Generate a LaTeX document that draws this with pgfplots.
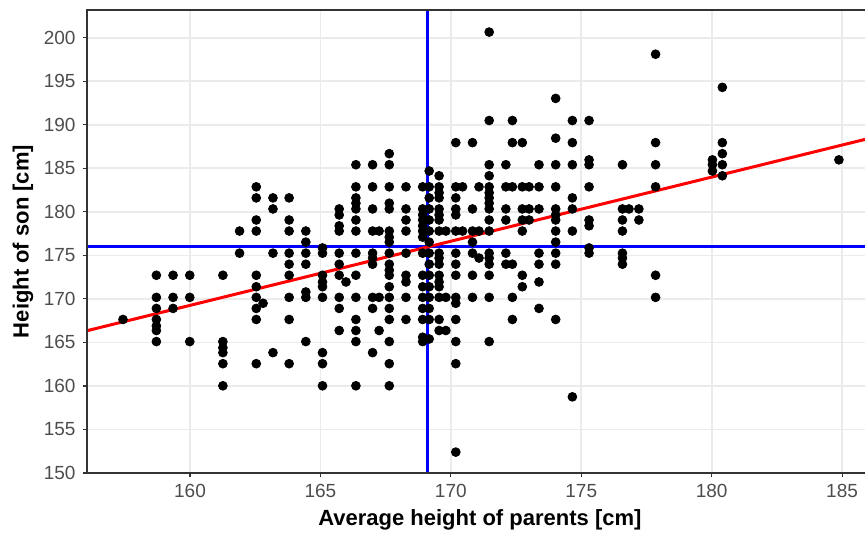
\documentclass[border=0pt]{standalone}
\usepackage{fontspec}
\setmainfont{Liberation Sans}
\usepackage{pgfplots}
\pgfplotsset{compat=1.18}
\definecolor{grey20}{HTML}{333333}
\definecolor{grey30}{HTML}{4D4D4D}
\definecolor{grey92}{HTML}{EBEBEB}

% midparent height vs son height
\pgfplotstableread{
x y
157.43 167.64
158.71 172.72
158.71 170.18
158.71 168.91
158.71 167.64
158.71 166.90
158.71 166.37
158.71 165.10
159.35 172.72
159.35 170.18
159.35 168.91
159.99 172.72
159.99 170.18
159.99 165.10
161.26 172.72
161.26 165.10
161.26 164.40
161.26 163.83
161.26 162.56
161.26 160.02
161.90 177.80
161.90 175.26
162.54 182.88
162.54 181.61
162.54 179.07
162.54 177.80
162.54 172.72
162.54 171.40
162.54 170.18
162.54 168.91
162.54 167.64
162.54 162.56
162.80 169.50
163.18 181.61
163.18 180.34
163.18 175.26
163.18 163.83
163.80 181.61
163.80 179.07
163.80 177.80
163.80 175.26
163.80 173.99
163.80 172.72
163.80 170.18
163.80 167.64
163.80 162.56
164.44 177.80
164.44 176.53
164.44 175.26
164.44 173.99
164.44 170.80
164.44 170.18
164.44 165.10
165.08 175.86
165.08 175.26
165.08 172.72
165.08 171.95
165.08 171.40
165.08 170.18
165.08 163.83
165.08 162.56
165.08 160.02
165.72 180.34
165.72 179.65
165.72 178.40
165.72 177.80
165.72 175.26
165.72 173.99
165.72 172.72
165.72 170.18
165.72 168.91
165.72 166.37
165.98 171.95
166.36 185.42
166.36 182.88
166.36 181.61
166.36 181.00
166.36 180.34
166.36 179.07
166.36 177.80
166.36 175.26
166.36 172.72
166.36 170.18
166.36 167.64
166.36 166.37
166.36 165.10
166.36 160.02
167.00 185.42
167.00 182.88
167.00 180.34
167.00 177.80
167.00 175.26
167.00 174.70
167.00 173.99
167.00 170.18
167.00 168.91
167.00 163.83
167.25 177.80
167.25 170.18
167.25 166.37
167.64 186.69
167.64 185.42
167.64 182.88
167.64 181.00
167.64 180.34
167.64 177.80
167.64 177.10
167.64 176.53
167.64 175.26
167.64 173.99
167.64 173.30
167.64 172.72
167.64 171.40
167.64 170.18
167.64 168.91
167.64 167.64
167.64 165.10
167.64 162.56
167.64 160.02
168.28 182.88
168.28 180.34
168.28 179.07
168.28 177.80
168.28 175.26
168.28 172.72
168.28 171.95
168.28 170.18
168.28 167.64
168.92 182.88
168.92 180.34
168.92 179.65
168.92 179.07
168.92 178.40
168.92 177.80
168.92 177.10
168.92 175.26
168.92 172.72
168.92 171.40
168.92 170.18
168.92 168.91
168.92 167.64
168.92 165.60
168.92 165.10
169.17 184.70
169.17 182.88
169.17 181.61
169.17 180.34
169.17 179.07
169.17 177.80
169.17 176.53
169.17 175.26
169.17 173.99
169.17 172.72
169.17 171.40
169.17 170.18
169.17 168.91
169.17 167.64
169.17 165.40
169.55 184.15
169.55 182.88
169.55 182.20
169.55 181.61
169.55 180.34
169.55 179.65
169.55 179.07
169.55 177.80
169.55 175.26
169.55 174.70
169.55 173.99
169.55 172.72
169.55 171.95
169.55 171.40
169.55 170.18
169.55 167.64
169.55 166.37
169.81 177.80
169.81 170.18
169.81 166.37
170.19 187.96
170.19 182.88
170.19 181.61
170.19 180.34
170.19 179.65
170.19 177.80
170.19 175.26
170.19 173.99
170.19 172.72
170.19 170.18
170.19 169.50
170.19 167.64
170.19 165.10
170.19 162.56
170.19 152.40
170.45 182.88
170.45 177.80
170.83 187.96
170.83 180.34
170.83 177.80
170.83 176.53
170.83 175.26
170.83 172.72
170.83 170.18
171.08 182.88
171.08 177.80
171.08 174.70
171.47 200.66
171.47 190.50
171.47 185.42
171.47 184.15
171.47 182.88
171.47 182.20
171.47 181.61
171.47 181.00
171.47 180.34
171.47 179.07
171.47 177.80
171.47 175.26
171.47 174.70
171.47 173.99
171.47 172.72
171.47 170.18
171.47 165.10
172.11 185.42
172.11 182.88
172.11 180.34
172.11 179.07
172.11 175.26
172.11 173.99
172.36 190.50
172.36 187.96
172.36 182.88
172.36 173.99
172.36 170.18
172.36 167.64
172.74 187.96
172.74 182.88
172.74 180.34
172.74 179.07
172.74 177.80
172.74 172.72
172.74 171.40
173.00 182.88
173.00 180.34
173.00 179.07
173.38 185.42
173.38 182.88
173.38 180.34
173.38 175.26
173.38 173.99
173.38 171.95
173.38 168.91
174.02 193.04
174.02 188.47
174.02 185.42
174.02 182.88
174.02 180.34
174.02 179.65
174.02 179.07
174.02 177.80
174.02 176.53
174.02 175.26
174.02 173.99
174.02 167.64
174.66 190.50
174.66 187.96
174.66 185.42
174.66 181.61
174.66 180.34
174.66 177.80
174.66 158.75
175.30 190.50
175.30 185.98
175.30 185.42
175.30 182.88
175.30 179.07
175.30 178.40
175.30 175.86
175.30 175.26
176.58 185.42
176.58 180.34
176.58 179.07
176.58 177.80
176.58 175.26
176.58 174.70
176.58 173.99
176.83 180.34
177.21 180.34
177.21 179.07
177.85 198.12
177.85 187.96
177.85 185.42
177.85 182.88
177.85 172.72
177.85 170.18
180.03 185.98
180.03 185.42
180.03 184.70
180.41 194.31
180.41 187.96
180.41 186.69
180.41 185.42
180.41 184.15
184.88 185.98
}\galton

\begin{document}
\begin{tikzpicture}
\begin{axis}[
    scale only axis,
    width=389pt,
    height=231.5pt,
    xmin=156.05, xmax=185.88,
    ymin=150, ymax=203.2,
    xtick={160,165,...,185},
    ytick={150,155,...,200},
    grid=major,
    major grid style={color=grey92, line width=0.9pt},
    axis line style={draw=none},
    tick align=outside,
    tick pos=left,
    major tick length=2.2pt,
    tick style={color=grey20, line width=0.55pt},
    ticklabel style={font=\fontsize{9.5}{11}\selectfont, text=grey30},
    /pgf/number format/assume math mode=true,
    xlabel={Average height of parents [cm]},
    ylabel={Height of son [cm]},
    every axis x label/.style={at={(rel axis cs:0.505,0)}, yshift=-23.5pt, anchor=center},
    every axis y label/.style={at={(rel axis cs:0,0.5)}, xshift=-32pt, rotate=90, anchor=center},
    label style={font=\fontsize{11}{13}\selectfont\bfseries},
]
\addplot[only marks, mark=*, mark size=2.2pt,
    mark options={fill=black, draw=none}] table[x=x, y=y] {\galton};
\addplot[blue, line width=1.5pt] coordinates {(169.12,150) (169.12,203.2)};
\addplot[blue, line width=1.5pt] coordinates {(156.05,175.98) (185.88,175.98)};
\addplot[red, line width=1.5pt] coordinates {(156.05,166.35) (185.88,188.33)};
\coordinate (bl) at (rel axis cs:0,0);
\coordinate (tr) at (rel axis cs:1,1);
\coordinate (tl) at (rel axis cs:0,1);
\coordinate (br) at (rel axis cs:1,0);
\end{axis}
\draw[grey20, line width=0.55pt] (tr) -- (tl) -- (bl) -- (br);
\pgfresetboundingbox
\path ([shift={(-43.5pt,-30pt)}]bl) rectangle ([shift={(0pt,5pt)}]tr);
\end{tikzpicture}
\end{document}
